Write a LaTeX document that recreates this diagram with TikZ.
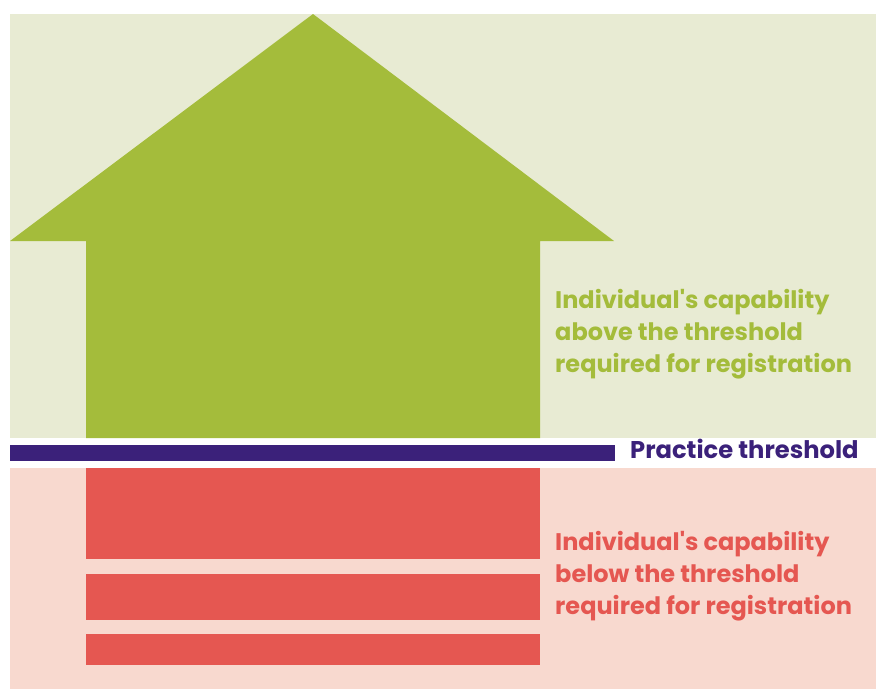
\documentclass[tikz,border=0pt]{standalone}
\usepackage{fontspec}
\setmainfont{Poppins}
\definecolor{greenbg}{HTML}{E8EBD3}
\definecolor{housegreen}{HTML}{A4BC3B}
\definecolor{threshpurple}{HTML}{3B217A}
\definecolor{pinkbg}{HTML}{F8D9CF}
\definecolor{barred}{HTML}{E55751}
\begin{document}
\begin{tikzpicture}[x=1pt,y=-1pt,
  lbl/.style={anchor=base west,inner sep=0pt,font=\fontsize{24}{32}\selectfont\bfseries},
  thlbl/.style={anchor=base west,inner sep=0pt,font=\fontsize{24.2}{24}\selectfont\bfseries,text=threshpurple}]
\useasboundingbox (0,0) rectangle (876,689);
\fill[white] (0,0) rectangle (876,689);
% backgrounds
\fill[greenbg] (10,14) rectangle (876,438);
\fill[pinkbg] (10,468) rectangle (876,689);
% house
\fill[housegreen] (313,14) -- (614,241) -- (540,241) -- (540,438) -- (86,438) -- (86,241) -- (10,241) -- cycle;
% threshold bar
\fill[threshpurple] (10,445) rectangle (615,461);
% red bars
\fill[barred] (86,468) rectangle (540,559);
\fill[barred] (86,574) rectangle (540,620);
\fill[barred] (86,634) rectangle (540,665);
% labels
\node[lbl,text=housegreen] (g1) at (555,308) {Individual\textquotesingle s capability};
\node[lbl,text=housegreen] (g2) at (555,340) {above the threshold};
\node[lbl,text=housegreen] (g3) at (555,372) {required for registration};
\node[thlbl] (th) at (630,458) {Practice threshold};
\node[lbl,text=barred] (r1) at (555,550) {Individual\textquotesingle s capability};
\node[lbl,text=barred] (r2) at (555,582) {below the threshold};
\node[lbl,text=barred] (r3) at (555,614) {required for registration};
\end{tikzpicture}
\end{document}
